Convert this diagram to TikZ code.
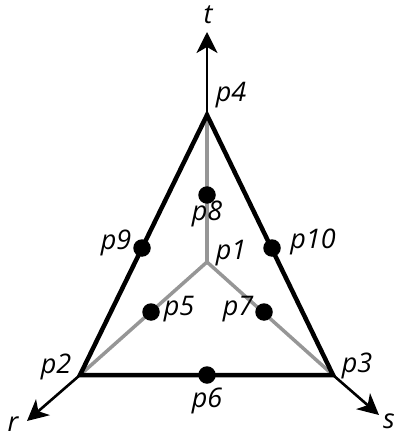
\documentclass[tikz,border=0pt]{standalone}
\usepackage{fontspec}
\setmainfont{Open Sans}
\usetikzlibrary{arrows.meta}
\begin{document}
\begin{tikzpicture}[x=1pt,y=-1pt,
  dot/.style={circle,fill=black,inner sep=0pt,minimum size=17.5pt},
  lbl/.style={inner sep=0pt,font=\fontsize{27}{30}\selectfont\itshape},
  edge/.style={line width=4.5pt,line join=miter},
  gray line/.style={line width=3.5pt,draw={rgb,255:red,150;green,150;blue,150}},
  axis/.style={line width=2.6pt,-{Stealth[length=21pt,width=21pt,inset=6pt]}}]
\useasboundingbox (0,0) rectangle (396,438);
% vertices
\coordinate (p4) at (207,115);
\coordinate (p2) at (80,375);
\coordinate (p3) at (333,375);
\coordinate (p1) at (207,262);
\coordinate (tend) at (207,32);
\coordinate (rend) at (27,421);
\coordinate (send) at (379,415);
% gray lines
\draw[gray line] (p1) -- (p4);
\draw[gray line] (p1) -- (p2);
\draw[gray line] (p1) -- (p3);
% axes
\draw[axis] (p4) -- (tend);
\draw[axis] (p2) -- (rend);
\draw[axis] (p3) -- (send);
% triangle
\draw[edge] (p4) -- (p2) -- (p3) -- cycle;
% dots
\node[dot] (d8) at (207,195) {};
\node[dot] (d9) at (142,248) {};
\node[dot] (d10) at (272,248) {};
\node[dot] (d5) at (151,312) {};
\node[dot] (d7) at (264,312) {};
\node[dot] (d6) at (207,375) {};
% labels
\node[lbl] (lt) at (208,15) {t};
\node[lbl] (l4) at (231,95) {p4};
\node[lbl] (l8) at (207,214) {p8};
\node[lbl] (l9) at (116,243) {p9};
\node[lbl] (l10) at (313,242) {p10};
\node[lbl] (l1) at (231,253) {p1};
\node[lbl] (l5) at (179,309) {p5};
\node[lbl] (l7) at (238,309) {p7};
\node[lbl] (l2) at (56,367) {p2};
\node[lbl] (l3) at (357,366) {p3};
\node[lbl] (l6) at (207,401) {p6};
\node[lbl] (lr) at (13,424) {r};
\node[lbl] (ls) at (389,421) {s};
\end{tikzpicture}
\end{document}
